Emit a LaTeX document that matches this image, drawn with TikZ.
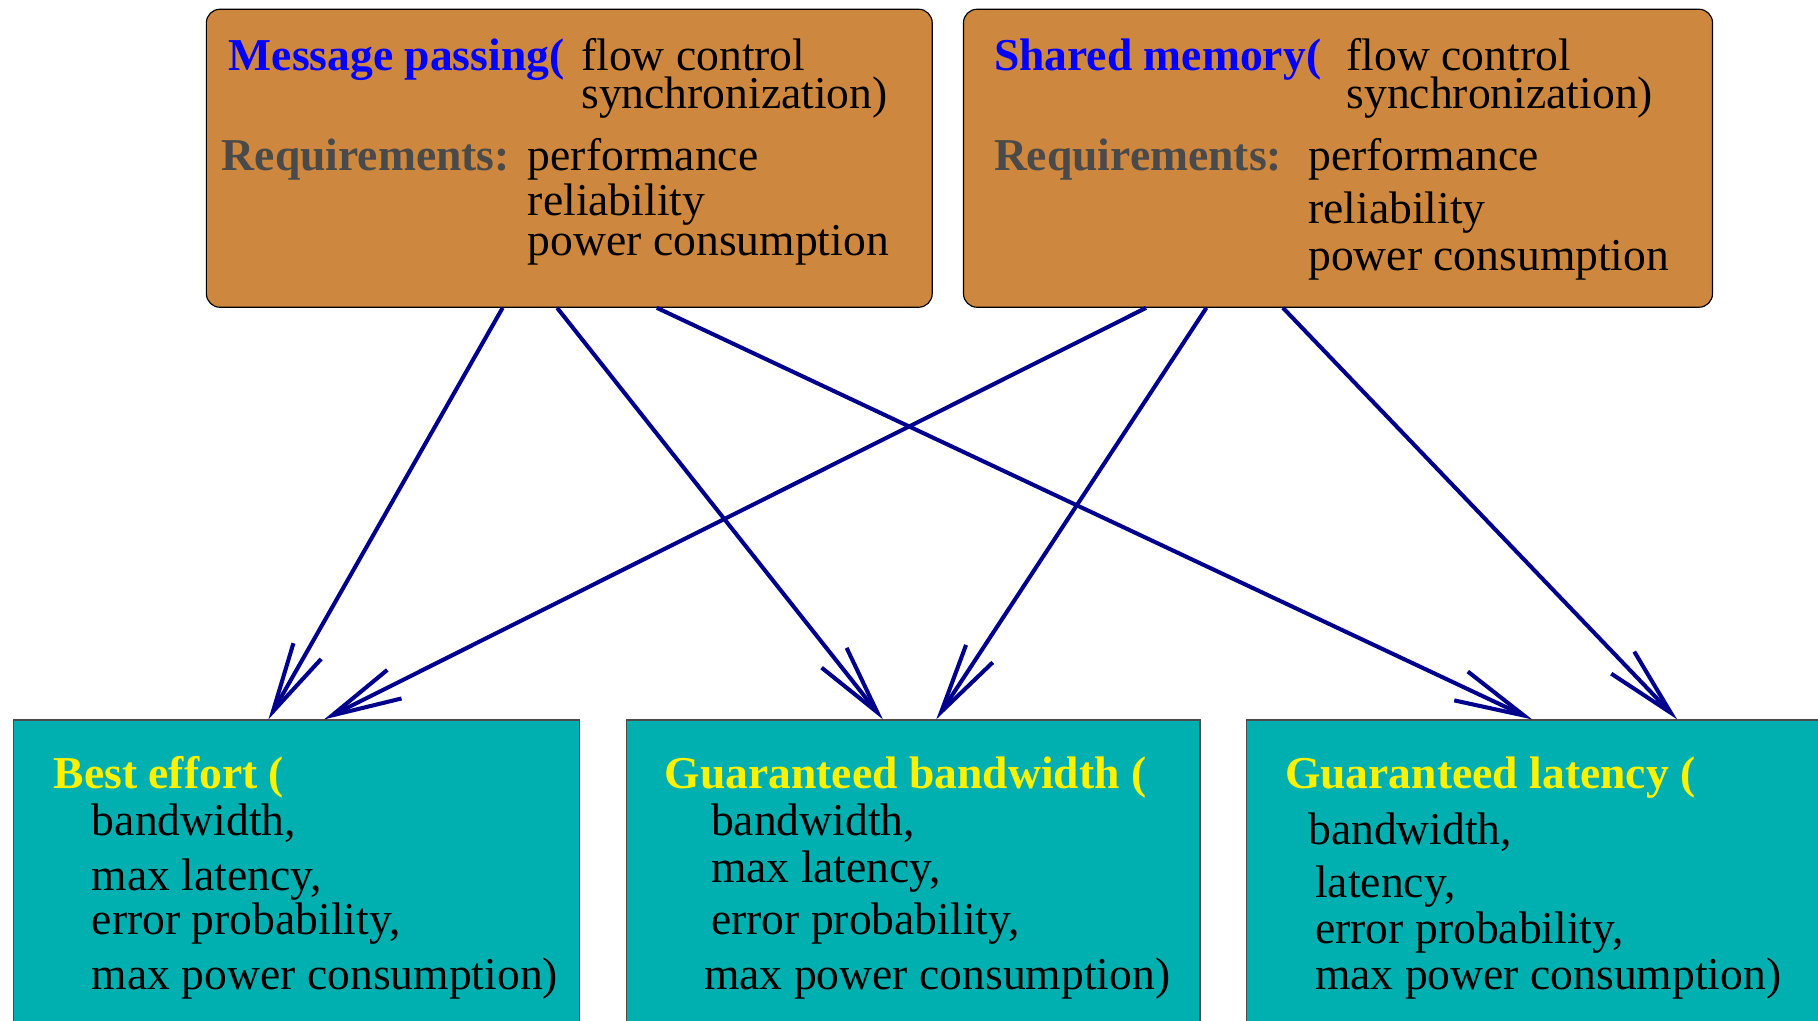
\documentclass[tikz,border=0pt]{standalone}
\usepackage{fontspec}
\setmainfont{Liberation Serif}
\usepackage{xcolor}
\usetikzlibrary{arrows.meta,calc,fit}
\definecolor{boxorange}{RGB}{205,135,63}
\definecolor{boxteal}{RGB}{0,176,176}
\definecolor{arrowblue}{RGB}{0,0,140}
\definecolor{reqgray}{RGB}{74,74,74}
\tikzset{
    topbox/.style={
        draw=black,
        fill=boxorange,
        rounded corners=7pt,
        inner sep=0pt,
        line width=0.6pt
    },
    servbox/.style={
        draw=black!70,
        fill=boxteal,
        inner sep=0pt,
        line width=0.6pt
    },
    txt/.style={anchor=base west, inner sep=0pt, yshift=-1.2pt, font=\fontsize{23.6}{26}\selectfont},
    mphead/.style={txt, text=blue, font=\fontsize{23.6}{26}\selectfont\bfseries},
    reqhead/.style={txt, text=reqgray, font=\fontsize{23.6}{26}\selectfont\bfseries},
    svhead/.style={txt, text=yellow, font=\fontsize{23.6}{26}\selectfont\bfseries},
    flow/.style={draw=arrowblue, line width=2.1pt, -{Straight Barb[length=36pt, width=16.5pt]}}
}

\begin{document}
\begin{tikzpicture}[x=0.6pt, y=0.6pt]
\useasboundingbox (0,0) rectangle (1568,880);

% programming models
\node[topbox, fit={(178,872) (804,615)}] (mp) {};
\node[topbox, fit={(831,872) (1477,615)}] (sm) {};

% service classes
\node[servbox, fit={(12,259) (500,-20)}] (be) {};
\node[servbox, fit={(540,259) (1035,-20)}] (gb) {};
\node[servbox, fit={(1075,259) (1600,-20)}] (gl) {};

\node[mphead] (mp-name) at (197,821) {Message passing(};
\node[txt] (mp-flow) at (501,821) {flow control};
\node[txt] (mp-sync) at (501,788) {synchronization)};
\node[reqhead] (mp-req) at (191,735) {Requirements:};
\node[txt] (mp-perf) at (455,735) {performance};
\node[txt] (mp-rel) at (455,696) {reliability};
\node[txt] (mp-pow) at (455,662) {power consumption};

\node[mphead] (sm-name) at (857,821) {Shared memory(};
\node[txt] (sm-flow) at (1161,821) {flow control};
\node[txt] (sm-sync) at (1161,788) {synchronization)};
\node[reqhead] (sm-req) at (857,735) {Requirements:};
\node[txt] (sm-perf) at (1128,735) {performance};
\node[txt] (sm-rel) at (1128,689) {reliability};
\node[txt] (sm-pow) at (1128,649) {power consumption};

\node[svhead] (be-name) at (46,202) {Best effort (};
\node[txt] (be-bw) at (79,161) {bandwidth,};
\node[txt] (be-lat) at (79,114) {max latency,};
\node[txt] (be-err) at (79,76) {error probability,};
\node[txt] (be-pow) at (79,29) {max power consumption)};

\node[svhead] (gb-name) at (573,202) {Guaranteed bandwidth (};
\node[txt] (gb-bw) at (613,161) {bandwidth,};
\node[txt] (gb-lat) at (613,121) {max latency,};
\node[txt] (gb-err) at (613,76) {error probability,};
\node[txt] (gb-pow) at (607,29) {max power consumption)};

\node[svhead] (gl-name) at (1108,202) {Guaranteed latency (};
\node[txt] (gl-bw) at (1128,154) {bandwidth,};
\node[txt] (gl-lat) at (1134,108) {latency,};
\node[txt] (gl-err) at (1134,68) {error probability,};
\node[txt] (gl-pow) at (1134,29) {max power consumption)};

% mappings
\draw[flow] ($(mp.south west)+(256,0)$) -- ($(be.north west)+(220,0)$);
\draw[flow] ($(mp.south west)+(303,0)$) -- ($(gb.north west)+(222,0)$);
\draw[flow] ($(mp.south west)+(389,0)$) -- ($(gl.north west)+(247,0)$);
\draw[flow] ($(sm.south west)+(158,0)$) -- ($(be.north west)+(268,0)$);
\draw[flow] ($(sm.south west)+(210,0)$) -- ($(gb.north west)+(268,0)$);
\draw[flow] ($(sm.south west)+(276,0)$) -- ($(gl.north west)+(372,0)$);
\end{tikzpicture}
\end{document}
